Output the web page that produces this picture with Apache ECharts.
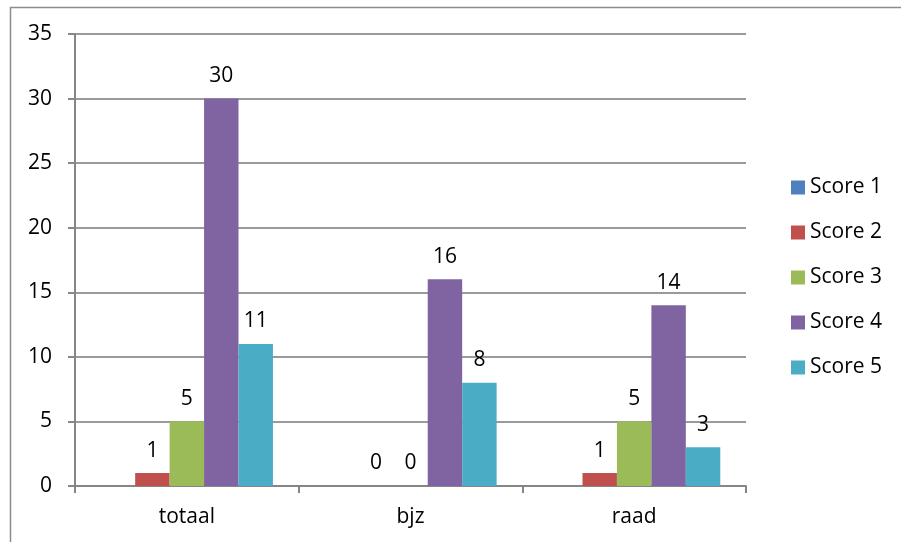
<!DOCTYPE html>
<html>
<head>
<meta charset="utf-8">
<script src="https://cdn.jsdelivr.net/npm/echarts@6/dist/echarts.min.js"></script>
<style>
  html, body { margin: 0; padding: 0; background: #fff; }
  #chart { width: 901px; height: 542px; }
</style>
</head>
<body>
<div id="chart"></div>
<script>
// categorieën en scores
const categories = ['totaal', 'bjz', 'raad']
const seriesNames = ['Score 1', 'Score 2', 'Score 3', 'Score 4', 'Score 5']
const score1 = [null, null, null]
const score2 = [1, 0, 1]
const score3 = [5, 0, 5]
const score4 = [30, 16, 14]
const score5 = [11, 8, 3]
const colors = ['#4F81BD', '#C0504D', '#9BBB59', '#8064A2', '#4BACC6']

const font = '"Open Sans", "Noto Sans", sans-serif'
const fontSize = 21
const chart = echarts.init(document.getElementById('chart'))

const makeSeries = (name, data, color) => ({
  name: name,
  type: 'bar',
  data: data,
  barGap: '0%',
  barCategoryGap: '23%',
  itemStyle: { color: color },
  label: {
    show: true,
    position: 'top',
    distance: 12,
    color: '#000',
    fontSize: fontSize,
    fontFamily: font
  }
})

const option = {
  animation: false,
  graphic: [
    {
      type: 'rect',
      shape: { x: 10.5, y: 7.5, width: 1000, height: 1000 },
      style: { fill: 'none', stroke: '#8c8c8c', lineWidth: 1.5 },
      z: -1
    }
  ],
  legend: {
    orient: 'vertical',
    left: 786,
    top: 172,
    itemWidth: 14,
    itemHeight: 14,
    itemGap: 24,
    icon: 'rect',
    textStyle: { fontSize: fontSize, lineHeight: 20, fontFamily: font, color: '#000', padding: [0, 0, 0, 0] },
    data: seriesNames
  },
  grid: {
    left: 75,
    right: 155,
    top: 34,
    bottom: 56
  },
  xAxis: {
    type: 'category',
    data: categories,
    axisLine: { lineStyle: { color: '#868686', width: 2 } },
    axisTick: { show: true, length: 7, lineStyle: { color: '#868686', width: 2 } },
    axisLabel: { color: '#000', fontSize: fontSize, fontFamily: font, margin: 21 }
  },
  yAxis: {
    type: 'value',
    min: 0,
    max: 35,
    interval: 5,
    axisLine: { show: true, lineStyle: { color: '#868686', width: 2 } },
    axisTick: { show: true, length: 7, lineStyle: { color: '#868686', width: 2 } },
    axisLabel: { color: '#000', fontSize: fontSize, fontFamily: font, margin: 23 },
    splitLine: { lineStyle: { color: '#9a9a9a', width: 2 } }
  },
  series: [
    makeSeries(seriesNames[0], score1, colors[0]),
    makeSeries(seriesNames[1], score2, colors[1]),
    makeSeries(seriesNames[2], score3, colors[2]),
    makeSeries(seriesNames[3], score4, colors[3]),
    makeSeries(seriesNames[4], score5, colors[4])
  ]
}

chart.setOption(option)
</script>
</body>
</html>
